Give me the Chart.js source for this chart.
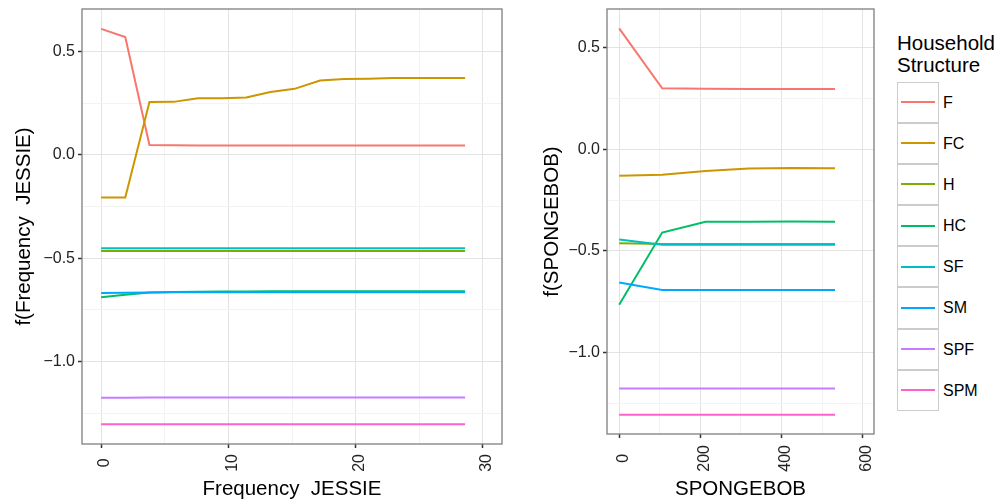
<!DOCTYPE html>
<html>
<head>
<meta charset="utf-8">
<script src="https://cdn.jsdelivr.net/npm/chart.js@4.4.1/dist/chart.umd.min.js"></script>
<style>
  body { margin: 0; background: #fff; font-family: "Liberation Sans", Arial, sans-serif; }
  #wrap { position: relative; width: 1004px; height: 504px; overflow: hidden; }
  canvas { position: absolute; top: 0; }
  #jessie { left: 0; }
  #sponge { left: 520px; }
  #legend { position: absolute; left: 897px; top: 31.5px; color: #000; }
  .ltitle { font-size: 20.5px; line-height: 22px; margin-bottom: 6px; }
  .key { position: relative; height: 41.2px; }
  .box { position: absolute; left: 0; top: 0; width: 41.5px; height: 41.2px; box-sizing: border-box;
         border: 1.5px solid #cccccc; background: #fff; }
  .box i { position: absolute; left: 3px; right: 3px; top: 50%; height: 2px; margin-top: -1px; }
  .key span { position: absolute; left: 46px; top: 0; line-height: 41.2px; font-size: 16px; white-space: nowrap; }
</style>
</head>
<body>
<div id="wrap">
  <canvas id="jessie" width="510" height="504"></canvas>
  <canvas id="sponge" width="362" height="504"></canvas>
  <div id="legend"></div>
</div>
<script>
// series names
const series = ["F", "FC", "H", "HC", "SF", "SM", "SPF", "SPM"];

// left panel: Frequency JESSIE
const jessieX = [0, 1.9, 3.8, 5.7, 7.6, 9.5, 11.4, 13.3, 15.2, 17.2, 19.1, 21.0, 22.9, 24.8, 26.7, 28.6];
const jessieF = [0.609, 0.569, 0.048, 0.046, 0.045, 0.045, 0.045, 0.045, 0.045, 0.045, 0.045, 0.045, 0.045, 0.045, 0.045, 0.045];
const jessieFC = [-0.206, -0.206, 0.255, 0.256, 0.274, 0.274, 0.277, 0.304, 0.319, 0.359, 0.366, 0.368, 0.371, 0.372, 0.372, 0.372];
const jessieH = [-0.465, -0.465, -0.465, -0.465, -0.465, -0.465, -0.465, -0.465, -0.465, -0.465, -0.465, -0.465, -0.465, -0.465, -0.465, -0.465];
const jessieHC = [-0.689, -0.677, -0.665, -0.663, -0.662, -0.661, -0.661, -0.660, -0.660, -0.660, -0.660, -0.660, -0.660, -0.660, -0.660, -0.660];
const jessieSF = [-0.452, -0.452, -0.452, -0.452, -0.452, -0.452, -0.452, -0.452, -0.452, -0.452, -0.452, -0.452, -0.452, -0.452, -0.452, -0.452];
const jessieSM = [-0.668, -0.667, -0.665, -0.664, -0.664, -0.664, -0.664, -0.664, -0.664, -0.664, -0.664, -0.664, -0.664, -0.664, -0.664, -0.664];
const jessieSPF = [-1.174, -1.174, -1.173, -1.173, -1.173, -1.173, -1.173, -1.173, -1.173, -1.173, -1.173, -1.173, -1.173, -1.173, -1.173, -1.173];
const jessieSPM = [-1.302, -1.302, -1.302, -1.302, -1.302, -1.302, -1.302, -1.302, -1.302, -1.302, -1.302, -1.302, -1.302, -1.302, -1.302, -1.302];

// right panel: SPONGEBOB
const spongeX = [0, 106, 213, 319, 426, 532];
const spongeF = [0.595, 0.300, 0.298, 0.297, 0.296, 0.296];
const spongeFC = [-0.131, -0.126, -0.107, -0.095, -0.092, -0.094];
const spongeH = [-0.462, -0.466, -0.466, -0.466, -0.466, -0.466];
const spongeHC = [-0.765, -0.410, -0.357, -0.357, -0.356, -0.357];
const spongeSF = [-0.444, -0.470, -0.470, -0.470, -0.470, -0.470];
const spongeSM = [-0.656, -0.692, -0.692, -0.692, -0.692, -0.692];
const spongeSPF = [-1.177, -1.177, -1.177, -1.177, -1.177, -1.177];
const spongeSPM = [-1.306, -1.306, -1.306, -1.306, -1.306, -1.306];

// tick values
const yMajor = [-1.0, -0.5, 0.0, 0.5];
const yMinor = [-1.25, -0.75, -0.25, 0.25];
const jessieXMajor = [0, 10, 20, 30];
const jessieXMinor = [5, 15, 25];
const spongeXMajor = [0, 200, 400, 600];
const spongeXMinor = [100, 300, 500];

const colors = ["#F8766D", "#CD9600", "#7CAE00", "#00BE67", "#00BFC4", "#00A9FF", "#C77CFF", "#FF61CC"];
const FONT = "'Liberation Sans', Arial, sans-serif";

const panelBorder = {
    id: "panelBorder",
    afterDatasetsDraw(chart) {
        const a = chart.chartArea;
        const c = chart.ctx;
        c.save();
        c.strokeStyle = "#7F7F7F";
        c.lineWidth = 1.3;
        c.strokeRect(a.left, a.top, a.right - a.left, a.bottom - a.top);
        c.restore();
    }
};

function fmtY(v) {
    return v.toFixed(1).replace("-", "\u2212");
}

// rotated x labels are centred in ggplot; trailing spaces keep short ones centred
function fmtX(major) {
    const longest = Math.max(...major.map(v => String(v).length));
    return v => major.includes(v) ? String(v) + " ".repeat(longest - String(v).length) : "";
}

function axisTicks(major, minor) {
    return function (scale) {
        scale.ticks = major.concat(minor)
            .filter(v => v >= scale.min && v <= scale.max)
            .sort((a, b) => a - b)
            .map(v => ({ value: v }));
    };
}

function gridOpts(major) {
    return {
        color: ctx => (ctx.tick && major.includes(ctx.tick.value)) ? "#E3E3E3" : "#F3F3F3",
        tickColor: ctx => (ctx.tick && major.includes(ctx.tick.value)) ? "#333333" : "rgba(0,0,0,0)",
        lineWidth: 1,
        tickWidth: 1.5,
        tickLength: 4
    };
}

function makeChart(id, xs, ys, cfg) {
    new Chart(document.getElementById(id), {
        type: "line",
        data: {
            datasets: ys.map((vals, i) => ({
                label: series[i],
                data: vals.map((v, j) => ({ x: xs[j], y: v })),
                borderColor: colors[i],
                borderWidth: 2,
                pointRadius: 0,
                fill: false,
                tension: 0,
                order: series.length - i
            }))
        },
        options: {
            responsive: false,
            animation: false,
            devicePixelRatio: 1,
            layout: { padding: { left: 0, right: 8, top: 9, bottom: 0 } },
            plugins: { legend: { display: false }, tooltip: { enabled: false } },
            scales: {
                x: {
                    type: "linear",
                    min: cfg.xMin,
                    max: cfg.xMax,
                    afterBuildTicks: axisTicks(cfg.xMajor, cfg.xMinor),
                    afterFit: s => {
                        s.height = cfg.xHeight;
                        s.paddingLeft = 0;
                        s.paddingRight = 0;
                    },
                    ticks: {
                        autoSkip: false,
                        minRotation: 90,
                        maxRotation: 90,
                        padding: cfg.xTickPad,
                        labelOffset: 4,
                        color: "#222",
                        font: { family: FONT, size: 16 },
                        callback: fmtX(cfg.xMajor)
                    },
                    grid: gridOpts(cfg.xMajor),
                    border: { display: false },
                    title: {
                        display: true,
                        text: cfg.xTitle,
                        color: "#000",
                        font: { family: FONT, size: 20.5 },
                        padding: { top: 0, bottom: 2 }
                    }
                },
                y: {
                    type: "linear",
                    min: cfg.yMin,
                    max: cfg.yMax,
                    afterBuildTicks: axisTicks(yMajor, yMinor),
                    afterFit: s => {
                        s.width = cfg.yWidth;
                        s.paddingTop = 0;
                        s.paddingBottom = 0;
                    },
                    ticks: {
                        autoSkip: false,
                        padding: 3,
                        color: "#222",
                        font: { family: FONT, size: 16 },
                        callback: v => yMajor.includes(v) ? fmtY(v) : ""
                    },
                    grid: gridOpts(yMajor),
                    border: { display: false },
                    title: {
                        display: true,
                        text: cfg.yTitle,
                        color: "#000",
                        font: { family: FONT, size: 20.5 },
                        padding: { top: cfg.yTitlePad, bottom: 0 }
                    }
                }
            }
        },
        plugins: [panelBorder]
    });
}

makeChart("jessie", jessieX,
    [jessieF, jessieFC, jessieH, jessieHC, jessieSF, jessieSM, jessieSPF, jessieSPM], {
        xMin: -1.5, xMax: 31.5, yMin: -1.398, yMax: 0.705,
        xMajor: jessieXMajor, xMinor: jessieXMinor,
        xHeight: 60, yWidth: 82, yTitlePad: 12.5, xTickPad: 6,
        xTitle: "Frequency  JESSIE", yTitle: "f(Frequency  JESSIE)"
    });

makeChart("sponge", spongeX,
    [spongeF, spongeFC, spongeH, spongeHC, spongeSF, spongeSM, spongeSPF, spongeSPM], {
        xMin: -30, xMax: 628, yMin: -1.401, yMax: 0.690,
        xMajor: spongeXMajor, xMinor: spongeXMinor,
        xHeight: 70, yWidth: 87, yTitlePad: 20, xTickPad: 7,
        xTitle: "SPONGEBOB", yTitle: "f(SPONGEBOB)"
    });

// legend
const legend = document.getElementById("legend");
legend.innerHTML = '<div class="ltitle">Household<br>Structure</div>' +
    series.map((s, i) =>
        '<div class="key"><div class="box"><i style="background:' + colors[i] + '"></i></div><span>' + s + '</span></div>'
    ).join("");
</script>
</body>
</html>
